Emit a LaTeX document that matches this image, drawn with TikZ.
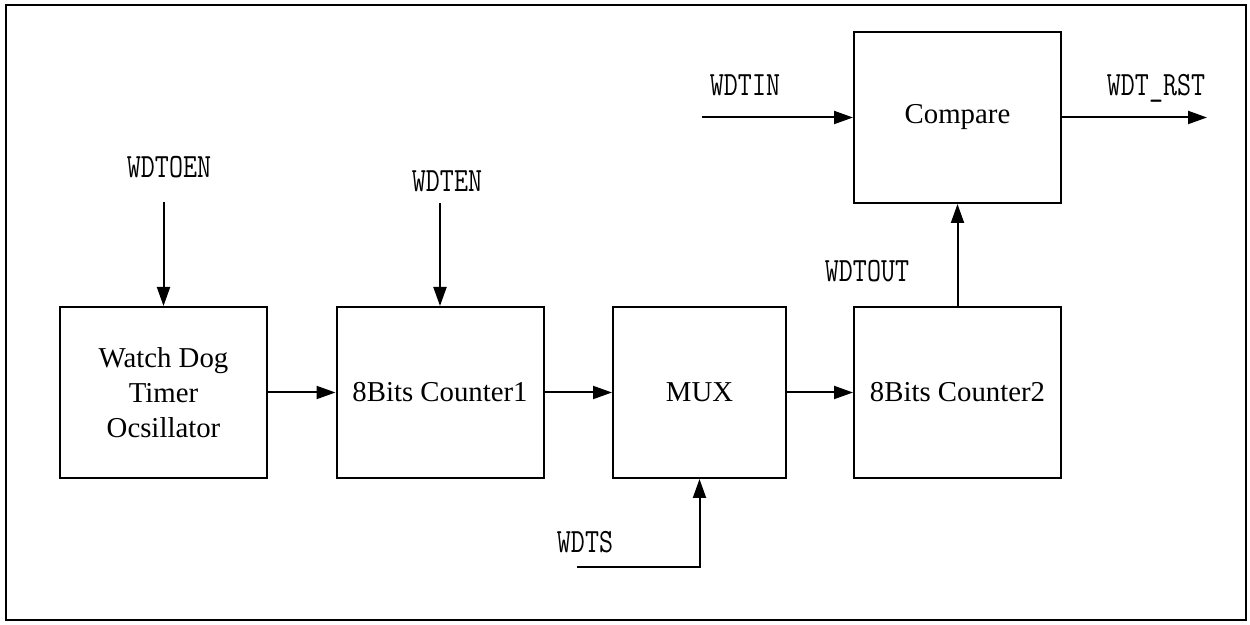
\documentclass[tikz,border=0pt]{standalone}
\usepackage{fontspec}
\setmainfont{Liberation Serif}
\newfontfamily\labfont{Latin Modern Mono}[FakeStretch=0.8]
\usetikzlibrary{arrows.meta}
\begin{document}
\begin{tikzpicture}[x=0.5pt,y=-0.5pt,
  blk/.style={draw,line width=1pt,minimum width=103.5pt,minimum height=85.5pt,inner sep=0pt,
    align=center,font=\fontsize{14.4}{17.5}\selectfont},
  sig/.style={font=\labfont\fontsize{17}{19}\selectfont,inner sep=0pt,anchor=base},
  conn/.style={line width=1pt,-{Triangle[length=9.5pt,width=6.5pt]}}]
\useasboundingbox (0,0) rectangle (1250,625);
\draw[line width=1pt] (6,5) rectangle (1246,620);
% blocks
\node[blk] (wdo) at (163.5,392.5) {Watch Dog\\Timer\\Ocsillator};
\node[blk] (c1) at (440,392.5) {8Bits Counter1};
\node[blk,minimum width=86.5pt] (mux) at (699.5,392.5) {MUX};
\node[blk] (c2) at (957.5,392.5) {8Bits Counter2};
\node[blk] (cmp) at (957.5,117.5) {Compare};
% labels
\node[sig] (lwdtoen) at (169,178) {WDTOEN};
\node[sig] (lwdten) at (447,192) {WDTEN};
\node[sig] (lwdtin) at (745,96) {WDTIN};
\node[sig] (lwdtrst) at (1156,96) {WDT\_RST};
\node[sig] (lwdtout) at (867,282) {WDTOUT};
\node[sig] (lwdts) at (585,553) {WDTS};
% free ends
\coordinate (pwdtoen) at (163.5,202);
\coordinate (pwdten) at (440,203);
\coordinate (pwdts) at (577,567);
\coordinate (pwdtin) at (702,117.5);
\coordinate (prst) at (1207,117.5);
% connectors
\draw[conn] (pwdtoen) -- (wdo.north);
\draw[conn] (pwdten) -- (c1.north);
\draw[conn] (wdo.east) -- (c1.west);
\draw[conn] (c1.east) -- (mux.west);
\draw[conn] (mux.east) -- (c2.west);
\draw[conn] (pwdts) -| (mux.south);
\draw[conn] (c2.north) -- (cmp.south);
\draw[conn] (pwdtin) -- (cmp.west);
\draw[conn] (cmp.east) -- (prst);
\end{tikzpicture}
\end{document}
